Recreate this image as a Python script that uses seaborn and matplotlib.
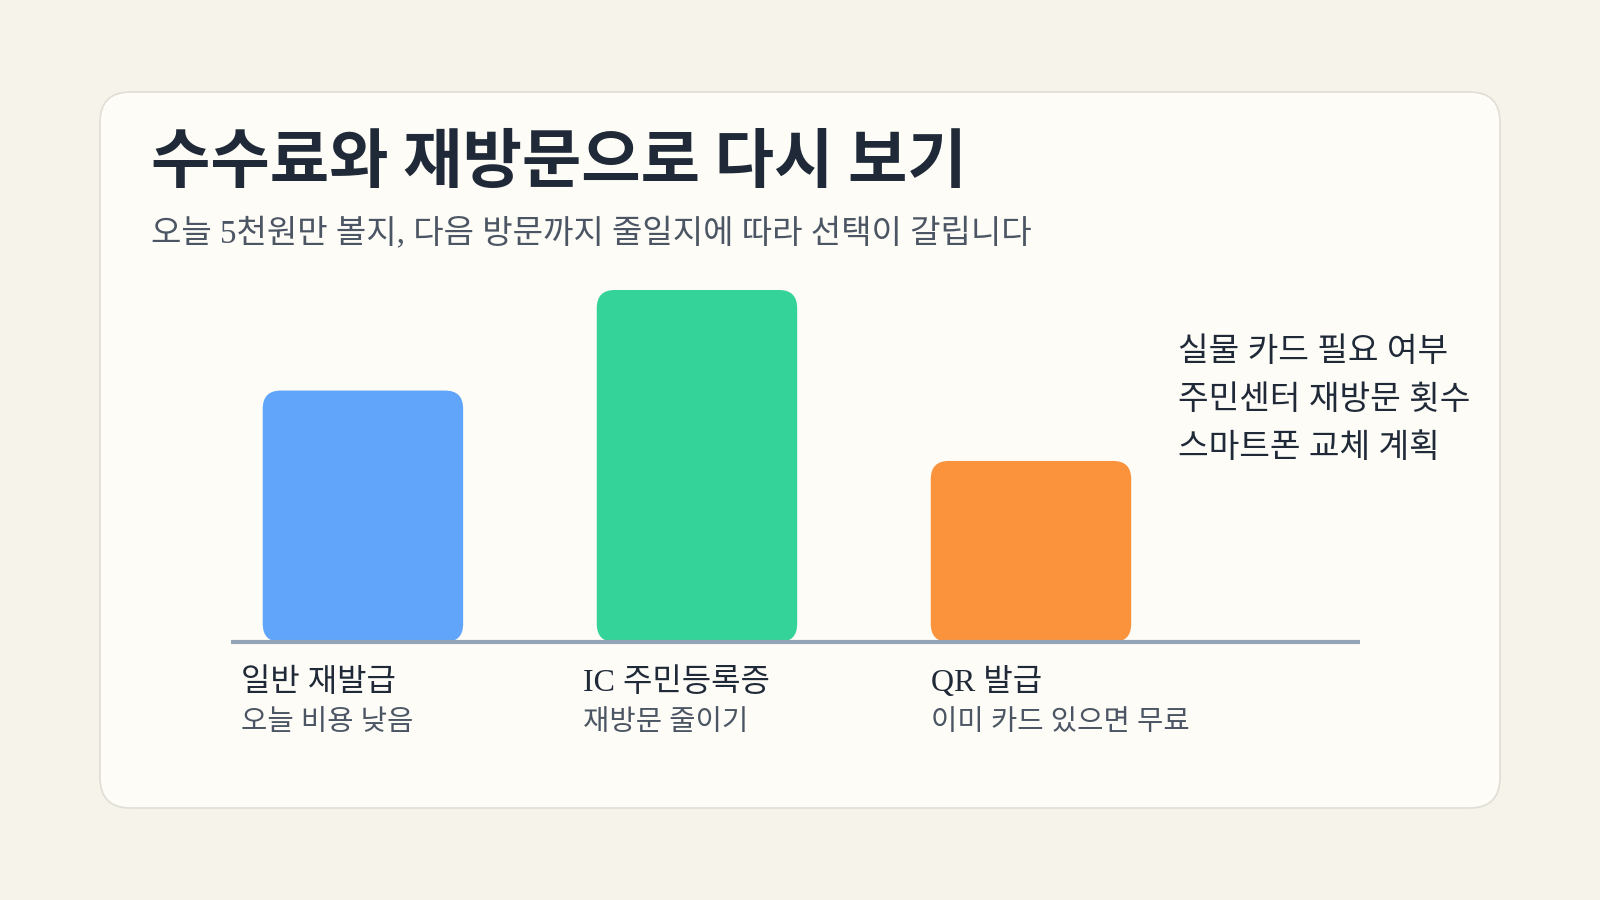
import matplotlib
matplotlib.use("Agg")
import matplotlib.pyplot as plt
import seaborn as sns
from matplotlib.patches import FancyBboxPatch
from matplotlib.transforms import blended_transform_factory

# === Data ===
categories = ["일반 재발급", "IC 주민등록증", "QR 발급"]
notes = ["오늘 비용 낮음", "재방문 줄이기", "이미 카드 있으면 무료"]
values = [5.0, 7.0, 3.6]
colors = ["#60A5FA", "#34D399", "#FB923C"]
factors = ["실물 카드 필요 여부", "주민센터 재방문 횟수", "스마트폰 교체 계획"]

title = "수수료와 재방문으로 다시 보기"
subtitle = "오늘 5천원만 볼지, 다음 방문까지 줄일지에 따라 선택이 갈립니다"

# === Style ===
sns.set_theme(style="white")
plt.rcParams["font.family"] = ["Liberation Serif", "Noto Sans CJK KR"]

BG = "#F6F4EA"
CARD = "#FDFCF7"
DARK = "#1F2937"
MUTED = "#4B5563"
SANS = ["Noto Sans CJK KR"]
MIXED = ["Liberation Serif", "Noto Sans CJK KR"]

fig = plt.figure(figsize=(16, 9), dpi=100)
fig.patch.set_facecolor(BG)

# card behind everything
card = FancyBboxPatch((100 / 1600, 1 - 808 / 900), 1400 / 1600, 716 / 900,
                      boxstyle="round,pad=0,rounding_size=0.019",
                      mutation_aspect=16 / 9,
                      transform=fig.transFigure, facecolor=CARD,
                      edgecolor="#E0DED5", linewidth=1.2, zorder=-5)
fig.patches.append(card)

ax = fig.add_axes([231 / 1600, 1 - 642 / 900, 1129 / 1600, 350 / 900])
ax.set_facecolor("none")
ax.set_zorder(1)

sns.barplot(x=categories, y=values, hue=categories, palette=colors,
            width=0.6, saturation=1, legend=False, ax=ax)

# swap the plain bars for rounded ones
rx = 18 / 334
ry = 18 / 50
for p in list(ax.patches):
    x0, y0, w, h = p.get_x(), p.get_y(), p.get_width(), p.get_height()
    fc = p.get_facecolor()
    p.remove()
    ax.add_patch(FancyBboxPatch((x0, y0), w, h,
                                boxstyle=f"round,pad=0,rounding_size={rx}",
                                mutation_aspect=ry / rx, clip_on=False,
                                facecolor=fc, edgecolor="none", zorder=2))

ax.axhline(0, color="#94A3B8", linewidth=3, zorder=3, clip_on=False,
           solid_capstyle="butt")
ax.set_xlim(-0.395, 2.985)
ax.set_ylim(0, 6.96)
ax.set_xticks([])
ax.set_yticks([])
ax.set_xlabel("")
ax.set_ylabel("")
for s in ax.spines.values():
    s.set_visible(False)

# category labels under the baseline
tr = blended_transform_factory(ax.transData, fig.transFigure)
label_shift = [-0.365, -0.34, -0.30]
for i, (cat, note) in enumerate(zip(categories, notes)):
    ax.text(i + label_shift[i], 1 - 683 / 900, cat, transform=tr,
            ha="left", va="center", fontsize=23, color=DARK, family=MIXED,
            clip_on=False)
    ax.text(i + label_shift[i], 1 - 723 / 900, note, transform=tr,
            ha="left", va="center", fontsize=20.6, color=MUTED, family=MIXED,
            clip_on=False)

# titles
fig.text(151 / 1600, 1 - 163 / 900, title, ha="left", va="center",
         fontsize=46.5, fontweight="bold", color=DARK, family=SANS)
fig.text(151 / 1600, 1 - 234 / 900, subtitle, ha="left", va="center",
         fontsize=23.8, color=MUTED, family=MIXED)

# side notes
for k, line in enumerate(factors):
    fig.text(1178 / 1600, 1 - (353 + 48 * k) / 900, line, ha="left",
             va="center", fontsize=24, color=DARK, family=MIXED)

fig.savefig("out.png", dpi=100, facecolor=BG)
